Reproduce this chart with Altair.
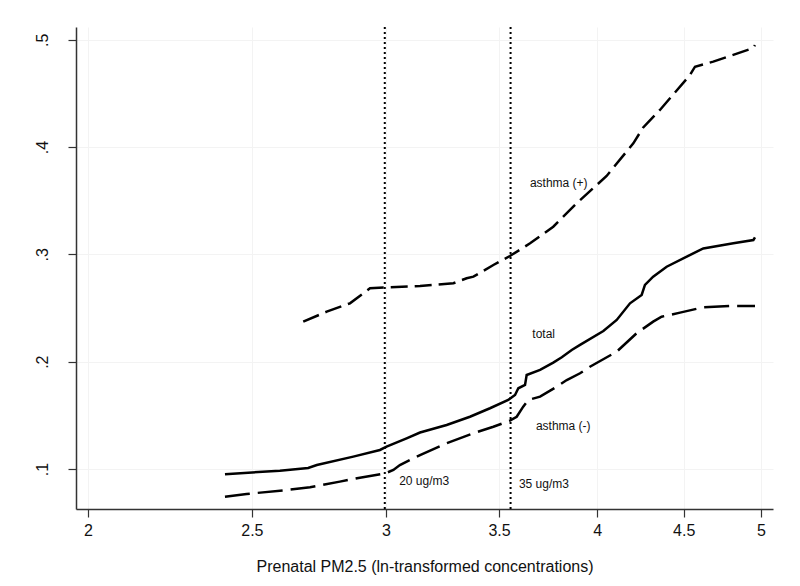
import altair as alt
import pandas as pd

# ---- data ----
total_x = [2.410, 2.597, 2.699, 2.731, 2.870, 2.976, 3.003, 3.086, 3.143, 3.259, 3.364,
           3.457, 3.544, 3.577, 3.593, 3.626, 3.634, 3.701, 3.768, 3.812, 3.864, 3.908,
           4.034, 4.108, 4.183, 4.250, 4.269, 4.317, 4.397, 4.519, 4.581, 4.622, 4.815,
           4.948, 4.959]
total_y = [0.0951, 0.0984, 0.1009, 0.1037, 0.1115, 0.1177, 0.1208, 0.1286, 0.1340, 0.1410,
           0.1487, 0.1566, 0.1643, 0.1690, 0.1752, 0.1783, 0.1876, 0.1923, 0.1991, 0.2041,
           0.2109, 0.2156, 0.2286, 0.2389, 0.2544, 0.2622, 0.2715, 0.2792, 0.2885, 0.2979,
           0.3025, 0.3055, 0.3103, 0.3134, 0.3159]

neg_x = [2.410, 2.482, 2.621, 2.706, 2.818, 2.896, 2.997, 3.031, 3.058, 3.143, 3.259,
         3.380, 3.473, 3.552, 3.585, 3.617, 3.642, 3.701, 3.786, 3.838, 3.908, 3.961,
         4.108, 4.221, 4.317, 4.367, 4.478, 4.622, 4.793, 4.959]
neg_y = [0.0742, 0.0767, 0.0804, 0.0829, 0.0882, 0.0919, 0.0958, 0.0991, 0.1037, 0.1130,
         0.1240, 0.1333, 0.1394, 0.1450, 0.1487, 0.1581, 0.1643, 0.1674, 0.1767, 0.1829,
         0.1892, 0.1953, 0.2093, 0.2265, 0.2373, 0.2419, 0.2457, 0.2507, 0.2519, 0.2519]

pos_x = [2.681, 2.768, 2.857, 2.936, 3.003, 3.143, 3.289, 3.349, 3.380, 3.473, 3.552,
         3.651, 3.768, 3.803, 3.890, 4.052, 4.202, 4.259, 4.357, 4.539, 4.570, 4.685,
         4.948, 4.959]
pos_y = [0.2373, 0.2466, 0.2544, 0.2684, 0.2693, 0.2705, 0.2731, 0.2777, 0.2792, 0.2901,
         0.2985, 0.3103, 0.3258, 0.3321, 0.3476, 0.3731, 0.4035, 0.4183, 0.4346, 0.4672,
         0.4749, 0.4796, 0.4924, 0.4951]

ref_x = [2.9957, 3.5553]  # ln(20), ln(35)

label_text = ["20 ug/m3", "35 ug/m3", "asthma (-)", "asthma (+)", "total"]
label_x = [3.055, 3.596, 3.680, 3.650, 3.662]
label_y = [0.0888, 0.0857, 0.1401, 0.3663, 0.2255]

x_ticks = [2, 2.5, 3, 3.5, 4, 4.5, 5]
y_ticks = [0.1, 0.2, 0.3, 0.4, 0.5]
X_DOMAIN = [1.9676, 5.082]
Y_DOMAIN = [0.0627, 0.5119]

FONT = "Liberation Sans"


def series_df(xs, ys):
    return pd.DataFrame({"x": xs, "y": ys, "i": list(range(len(xs)))})


X = alt.X(
    "x:Q",
    scale=alt.Scale(type="log", domain=X_DOMAIN, nice=False, zero=False),
    axis=alt.Axis(
        values=x_ticks, format=".1~f",
        title="Prenatal PM2.5 (ln-transformed concentrations)",
        titleFont=FONT, titleFontSize=16, titleFontWeight="normal", titleColor="#111",
        titleY=57, titleBaseline="middle",
        labelFont=FONT, labelFontSize=16, labelColor="#111", labelPadding=5,
        tickSize=8, tickColor="#333", tickWidth=1.2,
        domainColor="#333", domainWidth=1.5,
        grid=True, gridColor="#f3f3f3", gridWidth=1,
    ),
)
Y = alt.Y(
    "y:Q",
    scale=alt.Scale(domain=Y_DOMAIN, nice=False, zero=False),
    axis=alt.Axis(
        values=y_ticks, format=".1f", labelExpr="substring(datum.label, 1)",
        title=None,
        labelFont=FONT, labelFontSize=16, labelColor="#111",
        labelAngle=270, labelAlign="center", labelBaseline="middle", labelPadding=26,
        tickSize=8, tickColor="#333", tickWidth=1.2,
        domainColor="#333", domainWidth=1.5,
        grid=True, gridColor="#f3f3f3", gridWidth=1,
    ),
)

total = alt.Chart(series_df(total_x, total_y)).mark_line(
    color="black", strokeWidth=2.5
).encode(x=X, y=Y, order="i:Q")

neg = alt.Chart(series_df(neg_x, neg_y)).mark_line(
    color="black", strokeWidth=2.5, strokeDash=[25, 8]
).encode(x=X, y=Y, order="i:Q")

pos = alt.Chart(series_df(pos_x, pos_y)).mark_line(
    color="black", strokeWidth=2.5, strokeDash=[17, 7]
).encode(x=X, y=Y, order="i:Q")

rules = alt.Chart(pd.DataFrame({"x": ref_x})).mark_rule(
    color="black", strokeWidth=2, strokeDash=[2, 3]
).encode(x=X)

texts = alt.Chart(pd.DataFrame({"x": label_x, "y": label_y, "t": label_text})).mark_text(
    align="left", baseline="middle", font=FONT, fontSize=12, color="#111"
).encode(x=X, y=Y, text="t:N")

chart = alt.layer(rules, total, neg, pos, texts).properties(
    width=697, height=482,
    autosize=alt.AutoSizeParams(type="none"),
    padding={"left": 68, "top": 19, "right": 19, "bottom": 69},
    background="white",
).configure_view(stroke=None)

chart.save("out.html", embed_options={"renderer": "svg", "actions": False})
